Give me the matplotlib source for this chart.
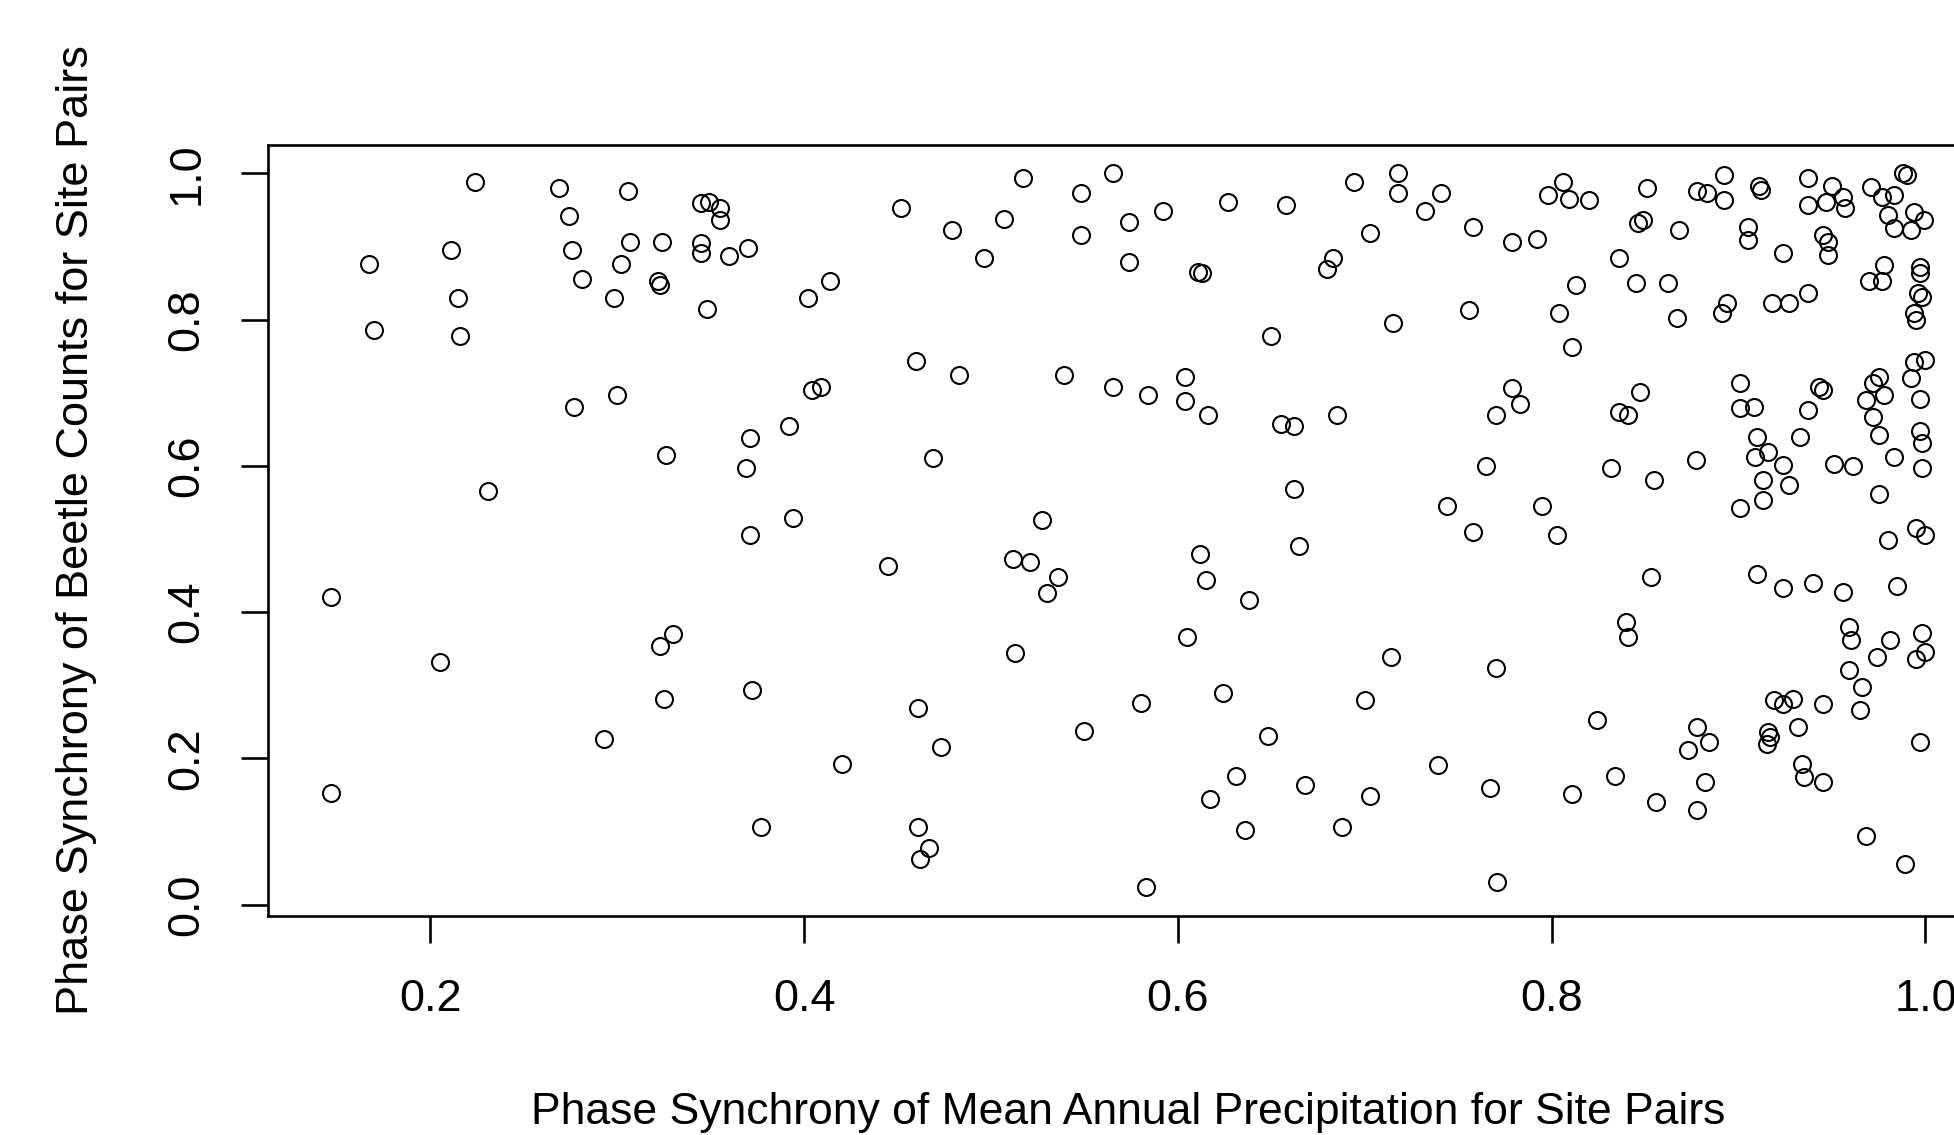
import matplotlib
matplotlib.use("Agg")
import matplotlib.pyplot as plt

# phase synchrony values (x = precipitation, y = beetle counts)
sync_precip = [
    0.147, 0.147, 0.167, 0.170, 0.205, 0.211, 0.215, 0.216, 0.224, 0.231,
    0.269, 0.274, 0.276, 0.277, 0.281, 0.293, 0.298, 0.300, 0.302, 0.306,
    0.307, 0.322, 0.323, 0.324, 0.323, 0.326, 0.325, 0.330, 0.345, 0.345,
    0.345, 0.349, 0.348, 0.355, 0.355, 0.360, 0.370, 0.371, 0.369, 0.371,
    0.372, 0.377, 0.392, 0.394, 0.402, 0.404, 0.409, 0.414, 0.420, 0.445,
    0.452, 0.460, 0.461, 0.461, 0.462, 0.467, 0.469, 0.473, 0.479, 0.483,
    0.496, 0.507, 0.512, 0.513, 0.517, 0.521, 0.527, 0.530, 0.536, 0.539,
    0.548, 0.548, 0.550, 0.565, 0.565, 0.574, 0.574, 0.580, 0.584, 0.583,
    0.592, 0.604, 0.604, 0.605, 0.612, 0.611, 0.613, 0.615, 0.616, 0.617,
    0.624, 0.627, 0.631, 0.636, 0.638, 0.650, 0.648, 0.655, 0.658, 0.662,
    0.662, 0.665, 0.668, 0.680, 0.683, 0.685, 0.688, 0.694, 0.700, 0.703,
    0.703, 0.714, 0.715, 0.718, 0.718, 0.732, 0.741, 0.739, 0.744, 0.756,
    0.758, 0.758, 0.765, 0.767, 0.770, 0.770, 0.771, 0.779, 0.779, 0.783,
    0.792, 0.795, 0.798, 0.803, 0.804, 0.806, 0.809, 0.811, 0.811, 0.813,
    0.820, 0.824, 0.832, 0.834, 0.836, 0.836, 0.840, 0.841, 0.841, 0.845,
    0.846, 0.849, 0.847, 0.851, 0.853, 0.855, 0.856, 0.862, 0.867, 0.868,
    0.873, 0.877, 0.878, 0.878, 0.878, 0.883, 0.884, 0.882, 0.891, 0.892,
    0.892, 0.894,
    0.901, 0.901, 0.908, 0.901, 0.905, 0.905, 0.910, 0.909, 0.916, 0.910,
    0.911, 0.912, 0.913, 0.913, 0.916, 0.917, 0.915, 0.918, 0.919, 0.924,
    0.924, 0.924, 0.924, 0.927, 0.927, 0.929, 0.932, 0.933, 0.934, 0.935,
    0.937, 0.937, 0.937, 0.937, 0.940, 0.943, 0.945, 0.945, 0.945, 0.945,
    0.947, 0.948, 0.948, 0.950, 0.951, 0.956, 0.957, 0.956, 0.959, 0.960,
    0.959, 0.961, 0.965, 0.966, 0.968, 0.968, 0.970, 0.971, 0.972, 0.972,
    0.974, 0.975, 0.975, 0.975, 0.977, 0.977, 0.978, 0.978, 0.980, 0.980,
    0.981, 0.983, 0.983, 0.983, 0.985, 0.988, 0.989, 0.990, 0.992, 0.992,
    0.994, 0.994, 0.994, 0.995, 0.995, 0.995, 0.996, 0.997, 0.997, 0.997,
    0.997, 0.998, 0.998, 0.998, 0.998, 0.997, 0.999, 1.000, 1.000, 1.000,
]
sync_beetle = [
    0.421, 0.153, 0.876, 0.786, 0.332, 0.895, 0.829, 0.778, 0.988, 0.565,
    0.980, 0.942, 0.895, 0.681, 0.855, 0.227, 0.829, 0.697, 0.876, 0.976,
    0.906, 0.852, 0.847, 0.906, 0.354, 0.615, 0.281, 0.370, 0.905, 0.891,
    0.959, 0.961, 0.814, 0.952, 0.936, 0.887, 0.898, 0.638, 0.597, 0.506,
    0.293, 0.106, 0.654, 0.529, 0.829, 0.704, 0.708, 0.852, 0.193, 0.463,
    0.953, 0.743, 0.269, 0.106, 0.063, 0.078, 0.611, 0.215, 0.922, 0.724,
    0.884, 0.938, 0.472, 0.344, 0.993, 0.468, 0.526, 0.426, 0.448, 0.724,
    0.973, 0.916, 0.238, 0.708, 1.000, 0.934, 0.879, 0.276, 0.697, 0.024,
    0.949, 0.721, 0.689, 0.366, 0.480, 0.865, 0.864, 0.444, 0.670, 0.144,
    0.289, 0.961, 0.176, 0.102, 0.417, 0.777, 0.230, 0.657, 0.957, 0.654,
    0.569, 0.490, 0.164, 0.869, 0.884, 0.670, 0.106, 0.988, 0.280, 0.149,
    0.918, 0.339, 0.795, 1.000, 0.973, 0.949, 0.973, 0.191, 0.545, 0.813,
    0.926, 0.510, 0.600, 0.160, 0.670, 0.323, 0.031, 0.906, 0.706, 0.685,
    0.910, 0.545, 0.970, 0.505, 0.809, 0.988, 0.965, 0.763, 0.152, 0.847,
    0.964, 0.253, 0.597, 0.176, 0.674, 0.884, 0.387, 0.366, 0.670, 0.850,
    0.932, 0.936, 0.701, 0.980, 0.448, 0.581, 0.141, 0.850, 0.802, 0.922,
    0.211, 0.608, 0.976, 0.243, 0.129, 0.973, 0.223, 0.168, 0.809, 0.998,
    0.963, 0.822,
    0.713, 0.679, 0.681, 0.542, 0.927, 0.909, 0.640, 0.612, 0.619, 0.452,
    0.982, 0.977, 0.581, 0.553, 0.236, 0.229, 0.220, 0.822, 0.280, 0.891,
    0.601, 0.433, 0.275, 0.822, 0.574, 0.281, 0.243, 0.639, 0.192, 0.175,
    0.993, 0.957, 0.836, 0.676, 0.440, 0.708, 0.704, 0.916, 0.274, 0.168,
    0.961, 0.906, 0.888, 0.982, 0.603, 0.968, 0.952, 0.428, 0.379, 0.362,
    0.321, 0.600, 0.266, 0.297, 0.690, 0.094, 0.852, 0.981, 0.713, 0.667,
    0.339, 0.722, 0.642, 0.561, 0.968, 0.852, 0.875, 0.697, 0.943, 0.499,
    0.362, 0.970, 0.925, 0.612, 0.436, 1.000, 0.056, 0.998, 0.922, 0.720,
    0.947, 0.742, 0.809, 0.799, 0.515, 0.336, 0.836, 0.872, 0.863, 0.692,
    0.647, 0.831, 0.631, 0.597, 0.371, 0.223, 0.936, 0.745, 0.505, 0.346,
]

x_ticks = [0.2, 0.4, 0.6, 0.8, 1.0]
y_ticks = [0.0, 0.2, 0.4, 0.6, 0.8, 1.0]

x_label = "Phase Synchrony of Mean Annual Precipitation for Site Pairs"
y_label = "Phase Synchrony of Beetle Counts for Site Pairs"

plt.rcParams['font.family'] = ['Liberation Sans', 'DejaVu Sans']

W, H = 1954, 1135
fig = plt.figure(figsize=(W / 100, H / 100), dpi=100)

# the plot box runs past the right edge of the picture (as in the original)
ax = fig.add_axes([268 / W, (H - 916) / H, 1721 / W, 771 / H])

ax.plot(sync_precip, sync_beetle, linestyle='none', marker='o',
        markersize=12.2, markerfacecolor='none', markeredgecolor='black',
        markeredgewidth=1.5)

ax.set_xlim(0.1131, 1.034)
ax.set_ylim(-0.0154, 1.0386)

ax.set_xticks(x_ticks)
ax.set_xticklabels(['%.1f' % v for v in x_ticks])
ax.set_yticks(y_ticks)
ax.set_yticklabels(['%.1f' % v for v in y_ticks], rotation=90, va='center')

for s in ['top', 'bottom', 'left', 'right']:
    ax.spines[s].set_linewidth(1.9)
    ax.spines[s].set_color('black')

ax.tick_params(axis='both', direction='out', length=19.5, width=1.9,
               labelsize=32.5, colors='black')
ax.tick_params(axis='x', pad=26)
ax.tick_params(axis='y', pad=24)

# axis titles placed like R's base graphics
fig.text(1128 / W, (H - 1124) / H, x_label, ha='center', va='baseline',
         fontsize=32)
fig.text(77 / W, (H - 530.5) / H, y_label, ha='center', va='center',
         rotation=90, fontsize=32.5)

fig.savefig("out.png", dpi=100)
